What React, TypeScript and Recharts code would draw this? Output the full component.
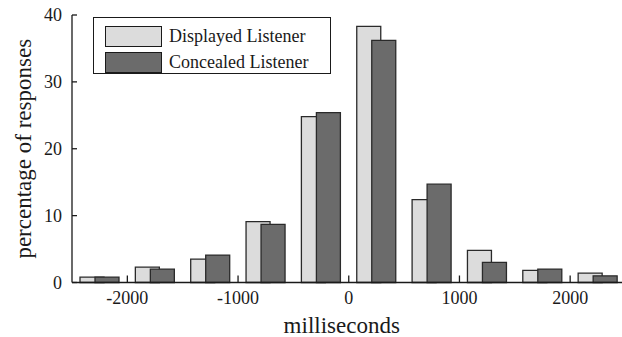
import { BarChart, Bar, XAxis, YAxis, Legend } from 'recharts';

// bin centres (ms), 500 ms wide bins
const binCentres = [-2250, -1750, -1250, -750, -250, 250, 750, 1250, 1750, 2250];
const displayedListener = [0.8, 2.3, 3.5, 9.1, 24.8, 38.3, 12.4, 4.8, 1.8, 1.4];
const concealedListener = [0.8, 2.0, 4.1, 8.7, 25.4, 36.2, 14.7, 3.0, 2.0, 1.0];
const xTicks = [-2000, -1000, 0, 1000, 2000];
const yTicks = [0, 10, 20, 30, 40];
const legendOrder = ['displayed', 'concealed'];

const data = binCentres.map((ms, i) => ({
  ms,
  displayed: displayedListener[i],
  concealed: concealedListener[i],
}));

const FONT = '"Liberation Serif", "Times New Roman", serif';
const INK = '#1a1a1a';

const LegendBox = ({ payload }: any) => {
  const items = [...(payload || [])].sort(
    (a: any, b: any) => legendOrder.indexOf(a.dataKey) - legendOrder.indexOf(b.dataKey)
  );
  return (
    <div
      style={{
        border: `1.5px solid ${INK}`,
        background: '#fff',
        width: 238,
        height: 57,
        boxSizing: 'border-box',
        padding: '5px 0 0 11px',
        fontFamily: FONT,
        fontSize: 18,
        color: INK,
      }}
    >
      {items.map((p: any) => (
        <div key={p.value} style={{ display: 'flex', alignItems: 'center', height: 26.5 }}>
          <span
            style={{
              display: 'inline-block',
              width: 55,
              height: 19,
              background: p.color,
              border: `1.3px solid ${INK}`,
              marginRight: 7,
            }}
          />
          <span>{p.value}</span>
        </div>
      ))}
    </div>
  );
};

export default function App() {
  return (
    <div
      style={{
        position: 'fixed',
        left: 0,
        top: 0,
        width: 622,
        height: 337,
        overflow: 'hidden',
        background: '#fff',
      }}
    >
      <BarChart
        width={640}
        height={337}
        data={data}
        margin={{ top: 15, right: 14.5, left: 0, bottom: 0 }}
        barGap={-9}
      >
        <XAxis
          dataKey="ms"
          type="number"
          domain={[-2500, 2500]}
          ticks={xTicks}
          height={54.5}
          tickSize={-7}
          tickMargin={16}
          stroke={INK}
          strokeWidth={1.3}
          tick={{ fill: INK, fontSize: 18, fontFamily: FONT }}
          label={(props: any) => {
            const vb = props.viewBox;
            return (
              <text
                x={vb.x + vb.width / 2 - 7}
                y={vb.y + 50}
                textAnchor="middle"
                fill={INK}
                fontSize={23}
                fontFamily={FONT}
              >
                milliseconds
              </text>
            );
          }}
        />
        <YAxis
          domain={[0, 40]}
          ticks={yTicks}
          width={72}
          tickSize={-5}
          tickMargin={15}
          stroke={INK}
          strokeWidth={1.3}
          tick={{ fill: INK, fontSize: 18, fontFamily: FONT }}
          label={(props: any) => {
            const vb = props.viewBox;
            const cx = vb.x + 31;
            const cy = vb.y + vb.height / 2;
            return (
              <text
                x={cx}
                y={cy}
                transform={`rotate(-90, ${cx}, ${cy})`}
                textAnchor="middle"
                fill={INK}
                fontSize={23}
                fontFamily={FONT}
              >
                percentage of responses
              </text>
            );
          }}
        />
        <Legend
          layout="vertical"
          align="center"
          verticalAlign="middle"
          wrapperStyle={{ top: 17, left: 93, width: 'auto' }}
          content={<LegendBox />}
        />
        <Bar
          dataKey="displayed"
          name="Displayed Listener"
          fill="#dcdcdc"
          stroke="#2a2a2a"
          strokeWidth={1.3}
          barSize={24}
          isAnimationActive={false}
        />
        <Bar
          dataKey="concealed"
          name="Concealed Listener"
          fill="#6b6b6b"
          stroke="#2a2a2a"
          strokeWidth={1.3}
          barSize={24}
          isAnimationActive={false}
        />
      </BarChart>
    </div>
  );
}
